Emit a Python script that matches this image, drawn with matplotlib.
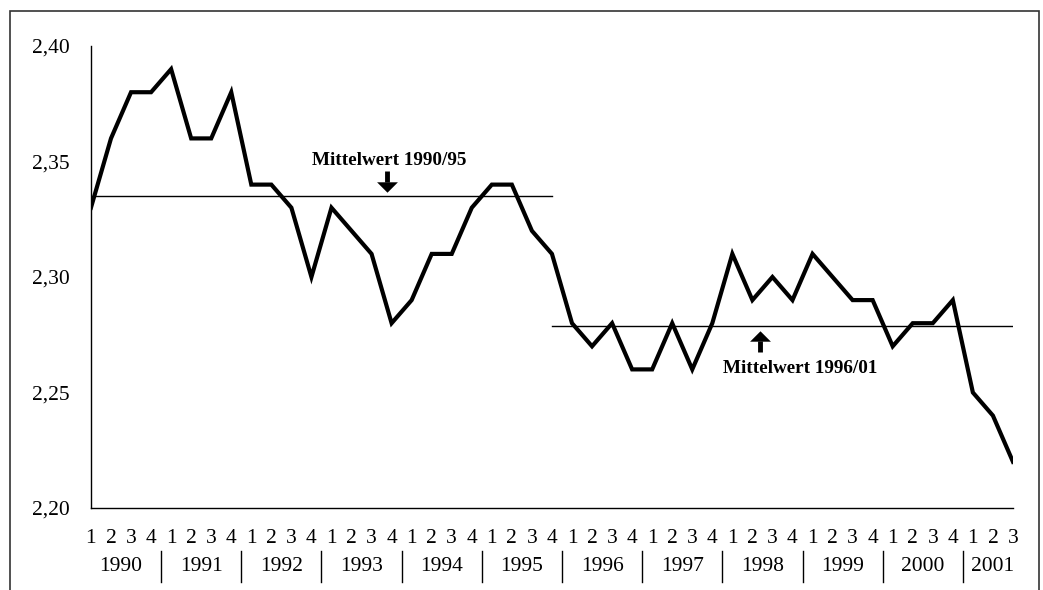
import numpy as np
import matplotlib
matplotlib.use('Agg')
import matplotlib.pyplot as plt
from matplotlib.patches import Rectangle
from matplotlib.transforms import blended_transform_factory

plt.rcParams['font.family'] = ['Liberation Serif', 'DejaVu Serif']

# quarterly values 1990 Q1 .. 2001 Q3
years = ['1990', '1991', '1992', '1993', '1994', '1995',
         '1996', '1997', '1998', '1999', '2000', '2001']
quarters_per_year = [4, 4, 4, 4, 4, 4, 4, 4, 4, 4, 4, 3]
values = [2.33, 2.36, 2.38, 2.38,
          2.39, 2.36, 2.36, 2.38,
          2.34, 2.34, 2.33, 2.30,
          2.33, 2.32, 2.31, 2.28,
          2.29, 2.31, 2.31, 2.33,
          2.34, 2.34, 2.32, 2.31,
          2.28, 2.27, 2.28, 2.26,
          2.26, 2.28, 2.26, 2.28,
          2.31, 2.29, 2.30, 2.29,
          2.31, 2.30, 2.29, 2.29,
          2.27, 2.28, 2.28, 2.29,
          2.25, 2.24, 2.22]
mean_labels = ['Mittelwert 1990/95', 'Mittelwert 1996/01']
mean_values = [2.335, 2.279]
yticks = [2.20, 2.25, 2.30, 2.35, 2.40]

x = np.arange(len(values))
split = 23  # last quarter of 1995

fig = plt.figure(figsize=(10.43, 5.90), dpi=100)
ax = fig.add_axes([0.0872, 0.139, 0.884, 0.783])

ax.plot(x, values, color='black', lw=3.0, solid_joinstyle='miter')
ax.plot([0, split], [mean_values[0]] * 2, color='black', lw=1.0)
ax.plot([split, len(values) - 1], [mean_values[1]] * 2, color='black', lw=1.0)

ax.set_xlim(0, len(values) - 1)
ax.set_ylim(2.20, 2.40)
ax.set_yticks(yticks)
ax.set_yticklabels([f'{v:.2f}'.replace('.', ',') for v in yticks], fontsize=15.5)
ax.tick_params(axis='y', length=0, pad=15)
ax.set_xticks([])
for s in ['top', 'right']:
    ax.spines[s].set_visible(False)
for s in ['left', 'bottom']:
    ax.spines[s].set_linewidth(1.0)

# quarter and year labels under the axis
tr = blended_transform_factory(ax.transData, fig.transFigure)
pos = 0
for i, (yr, n) in enumerate(zip(years, quarters_per_year)):
    for q in range(n):
        ax.text(pos + q, 0.0881, str(q + 1), transform=tr, ha='center',
                va='center', fontsize=15.5)
    ax.text(pos + (n - 1) / 2, 0.039, yr, transform=tr, ha='center',
            va='center', fontsize=15.5)
    if i > 0:
        ax.plot([pos - 0.5, pos - 0.5], [0.013, 0.066], transform=tr,
                color='black', lw=1.0, clip_on=False)
    pos += n

# mean annotations: thick stem + flat triangular head
head_down = [(-1, 0.5), (1, 0.5), (0, -0.5), (-1, 0.5)]
head_up = [(-1, -0.5), (1, -0.5), (0, 0.5), (-1, -0.5)]

ax.text(14.9, 2.3506, mean_labels[0], ha='center', va='center',
        fontsize=13.8, fontweight='bold')
ax.plot([14.75, 14.75], [2.3460, 2.3410], color='black', lw=3.5,
        solid_capstyle='butt')
ax.plot([14.75], [2.3391], marker=head_down, ms=15, color='black', mew=0)

ax.text(35.4, 2.2606, mean_labels[1], ha='center', va='center',
        fontsize=13.8, fontweight='bold')
ax.plot([33.4, 33.4], [2.2677, 2.2723], color='black', lw=3.5,
        solid_capstyle='butt')
ax.plot([33.4], [2.2744], marker=head_up, ms=15, color='black', mew=0)

# outer frame, open at the bottom
fig.patches.append(Rectangle((0.0096, -0.1), 0.9866, 1.0814, fill=False,
                             edgecolor='#333333', lw=1.2,
                             transform=fig.transFigure, figure=fig))

fig.savefig('out.png', dpi=100)
